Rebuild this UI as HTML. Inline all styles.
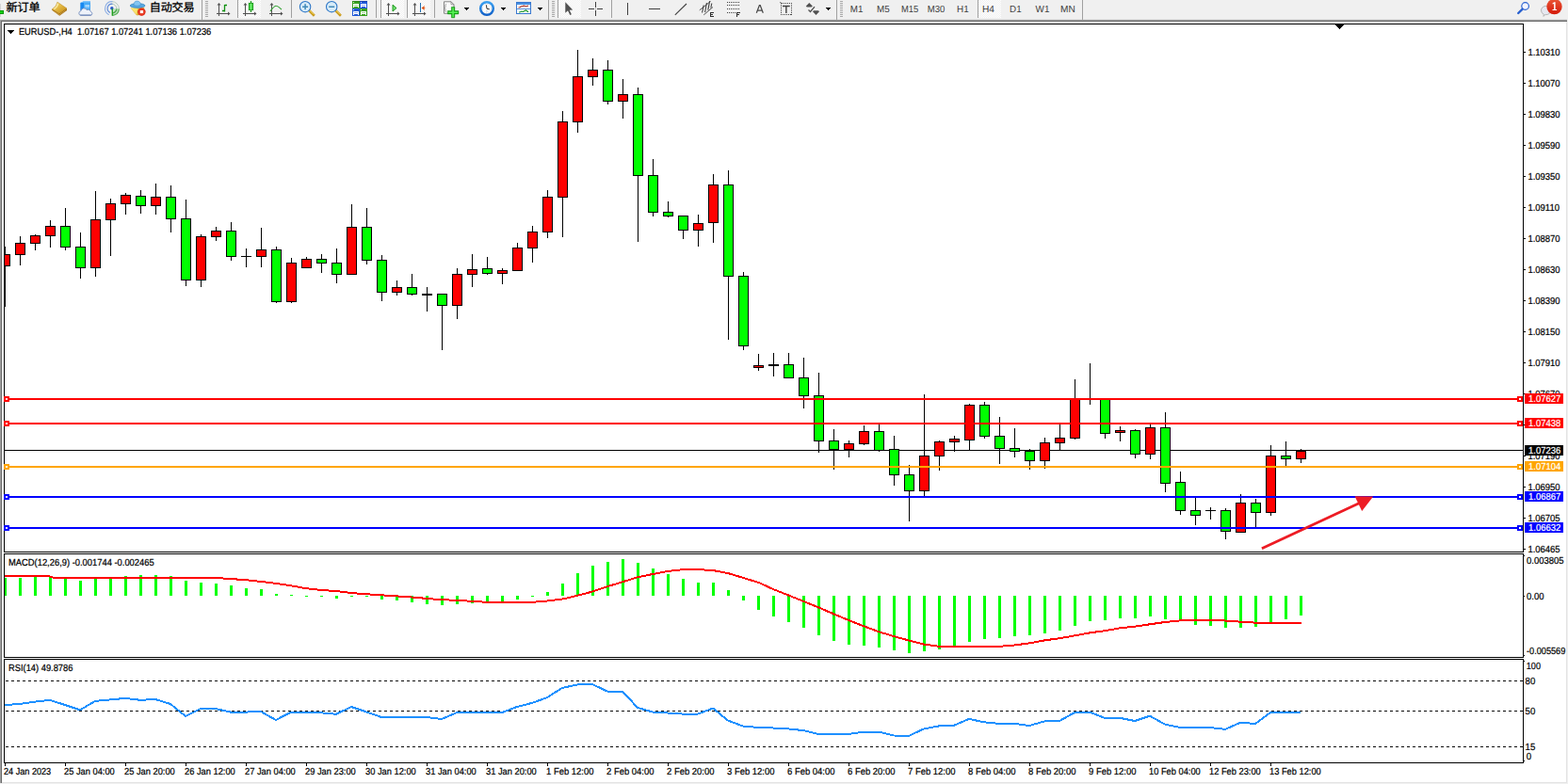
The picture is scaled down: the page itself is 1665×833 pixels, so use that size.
<!DOCTYPE html><html><head><meta charset="utf-8"><title>EURUSD H4</title><style>html,body{margin:0;padding:0;background:#fff;overflow:hidden}</style></head><body><svg width="1665" height="833" viewBox="0 0 1665 833" font-family="'Liberation Sans', sans-serif" text-rendering="geometricPrecision" style="display:block">
<rect x="0" y="0" width="1665" height="833" fill="#fff"/>
<g shape-rendering="crispEdges">
<rect x="0" y="0" width="1665" height="21" fill="#f0f0f0"/>
<rect x="0" y="20" width="1664" height="1" fill="#e3e3e3"/>
<rect x="0" y="21" width="1664" height="1" fill="#a0a0a0"/>
<rect x="1" y="22" width="1663" height="1" fill="#696969"/>
<rect x="0" y="21" width="1" height="811" fill="#a0a0a0"/>
<rect x="1" y="22" width="1" height="810" fill="#696969"/>
<rect x="1663" y="23" width="1" height="809" fill="#e3e3e3"/>
<rect x="2" y="831" width="1662" height="1" fill="#e3e3e3"/>
<rect x="1664" y="21" width="1" height="812" fill="#f0f0f0"/>
<rect x="0" y="832" width="1665" height="1" fill="#f0f0f0"/>
<rect x="4" y="25" width="1614" height="1" fill="#000"/>
<rect x="4" y="586" width="1614" height="1" fill="#000"/>
<rect x="4" y="25" width="1" height="562" fill="#000"/>
<rect x="1617" y="25" width="1" height="562" fill="#000"/>
<rect x="4" y="588" width="1614" height="1" fill="#000"/>
<rect x="4" y="698" width="1614" height="1" fill="#000"/>
<rect x="4" y="588" width="1" height="111" fill="#000"/>
<rect x="1617" y="588" width="1" height="111" fill="#000"/>
<rect x="4" y="700" width="1614" height="1" fill="#000"/>
<rect x="4" y="810" width="1614" height="1" fill="#000"/>
<rect x="4" y="700" width="1" height="111" fill="#000"/>
<rect x="1617" y="700" width="1" height="111" fill="#000"/>
</g>
<g shape-rendering="crispEdges">
<rect x="1618" y="55" width="2" height="1" fill="#000"/>
<rect x="1618" y="88" width="2" height="1" fill="#000"/>
<rect x="1618" y="121" width="2" height="1" fill="#000"/>
<rect x="1618" y="154" width="2" height="1" fill="#000"/>
<rect x="1618" y="187" width="2" height="1" fill="#000"/>
<rect x="1618" y="220" width="2" height="1" fill="#000"/>
<rect x="1618" y="253" width="2" height="1" fill="#000"/>
<rect x="1618" y="286" width="2" height="1" fill="#000"/>
<rect x="1618" y="319" width="2" height="1" fill="#000"/>
<rect x="1618" y="352" width="2" height="1" fill="#000"/>
<rect x="1618" y="385" width="2" height="1" fill="#000"/>
<rect x="1618" y="418" width="2" height="1" fill="#000"/>
<rect x="1618" y="451" width="2" height="1" fill="#000"/>
<rect x="1618" y="484" width="2" height="1" fill="#000"/>
<rect x="1618" y="517" width="2" height="1" fill="#000"/>
<rect x="1618" y="550" width="2" height="1" fill="#000"/>
<rect x="1618" y="583" width="2" height="1" fill="#000"/>
</g>
<text transform="translate(1622.4 59) scale(0.929 1)" font-size="10.2" fill="#000" stroke="#000" stroke-width="0.22" text-anchor="start">1.10310</text>
<text transform="translate(1622.4 92) scale(0.929 1)" font-size="10.2" fill="#000" stroke="#000" stroke-width="0.22" text-anchor="start">1.10070</text>
<text transform="translate(1622.4 125) scale(0.929 1)" font-size="10.2" fill="#000" stroke="#000" stroke-width="0.22" text-anchor="start">1.09830</text>
<text transform="translate(1622.4 158) scale(0.929 1)" font-size="10.2" fill="#000" stroke="#000" stroke-width="0.22" text-anchor="start">1.09590</text>
<text transform="translate(1622.4 191) scale(0.929 1)" font-size="10.2" fill="#000" stroke="#000" stroke-width="0.22" text-anchor="start">1.09350</text>
<text transform="translate(1622.4 224) scale(0.929 1)" font-size="10.2" fill="#000" stroke="#000" stroke-width="0.22" text-anchor="start">1.09110</text>
<text transform="translate(1622.4 257) scale(0.929 1)" font-size="10.2" fill="#000" stroke="#000" stroke-width="0.22" text-anchor="start">1.08870</text>
<text transform="translate(1622.4 290) scale(0.929 1)" font-size="10.2" fill="#000" stroke="#000" stroke-width="0.22" text-anchor="start">1.08630</text>
<text transform="translate(1622.4 323) scale(0.929 1)" font-size="10.2" fill="#000" stroke="#000" stroke-width="0.22" text-anchor="start">1.08390</text>
<text transform="translate(1622.4 356) scale(0.929 1)" font-size="10.2" fill="#000" stroke="#000" stroke-width="0.22" text-anchor="start">1.08150</text>
<text transform="translate(1622.4 389) scale(0.929 1)" font-size="10.2" fill="#000" stroke="#000" stroke-width="0.22" text-anchor="start">1.07910</text>
<text transform="translate(1622.4 422) scale(0.929 1)" font-size="10.2" fill="#000" stroke="#000" stroke-width="0.22" text-anchor="start">1.07670</text>
<text transform="translate(1622.4 488) scale(0.929 1)" font-size="10.2" fill="#000" stroke="#000" stroke-width="0.22" text-anchor="start">1.07190</text>
<text transform="translate(1622.4 521) scale(0.929 1)" font-size="10.2" fill="#000" stroke="#000" stroke-width="0.22" text-anchor="start">1.06950</text>
<text transform="translate(1622.4 554) scale(0.929 1)" font-size="10.2" fill="#000" stroke="#000" stroke-width="0.22" text-anchor="start">1.06705</text>
<text transform="translate(1622.4 587) scale(0.929 1)" font-size="10.2" fill="#000" stroke="#000" stroke-width="0.22" text-anchor="start">1.06465</text>
<g shape-rendering="crispEdges">
<rect x="1618" y="590" width="1" height="1" fill="#000"/>
<rect x="1618" y="633" width="1" height="1" fill="#000"/>
<rect x="1618" y="696" width="1" height="1" fill="#000"/>
<rect x="1618" y="702" width="1" height="1" fill="#000"/>
<rect x="1618" y="808" width="1" height="1" fill="#000"/>
</g>
<text transform="translate(1621 599) scale(0.929 1)" font-size="10.2" fill="#000" stroke="#000" stroke-width="0.22" text-anchor="start">0.003805</text>
<text transform="translate(1621 637) scale(0.93 1)" font-size="10.2" fill="#000" stroke="#000" stroke-width="0.22" text-anchor="start">0.00</text>
<text transform="translate(1621 695) scale(0.9 1)" font-size="10.2" fill="#000" stroke="#000" stroke-width="0.22" text-anchor="start">-0.005569</text>
<text transform="translate(1620.8 711) scale(0.89 1)" font-size="10.2" fill="#000" stroke="#000" stroke-width="0.22" text-anchor="start">100</text>
<text transform="translate(1619.6 727) scale(0.94 1)" font-size="10.2" fill="#000" stroke="#000" stroke-width="0.22" text-anchor="start">80</text>
<text transform="translate(1619.6 759) scale(0.94 1)" font-size="10.2" fill="#000" stroke="#000" stroke-width="0.22" text-anchor="start">50</text>
<text transform="translate(1619.6 797) scale(0.94 1)" font-size="10.2" fill="#000" stroke="#000" stroke-width="0.22" text-anchor="start">15</text>
<text transform="translate(1620.8 807) scale(0.95 1)" font-size="10.2" fill="#000" stroke="#000" stroke-width="0.22" text-anchor="start">0</text>
<g shape-rendering="crispEdges">
<rect x="8" y="32" width="7" height="1" fill="#000"/>
<rect x="9" y="33" width="5" height="1" fill="#000"/>
<rect x="10" y="34" width="3" height="1" fill="#000"/>
<rect x="11" y="35" width="1" height="1" fill="#000"/>
<rect x="1418" y="26" width="9" height="1" fill="#000"/>
<rect x="1419" y="27" width="7" height="1" fill="#000"/>
<rect x="1420" y="28" width="5" height="1" fill="#000"/>
<rect x="1421" y="29" width="3" height="1" fill="#000"/>
<rect x="1422" y="30" width="1" height="1" fill="#000"/>
</g>
<text transform="translate(19.9 37) scale(0.9135 1)" font-size="10.2" fill="#000" stroke="#000" stroke-width="0.22" text-anchor="start">EURUSD-,H4&#160;&#160;1.07167 1.07241 1.07136 1.07236</text>
<text transform="translate(9.0 600.5) scale(0.9196 1)" font-size="10.2" fill="#000" stroke="#000" stroke-width="0.22" text-anchor="start">MACD(12,26,9) -0.001744 -0.002465</text>
<text transform="translate(9.0 712.5) scale(0.915 1)" font-size="10.2" fill="#000" stroke="#000" stroke-width="0.22" text-anchor="start">RSI(14) 49.8786</text>
<g shape-rendering="crispEdges">
<rect x="5" y="478" width="1612" height="1" fill="#000"/>
<rect x="5" y="262" width="1" height="64" fill="#000"/>
<rect x="5" y="270" width="6" height="13" fill="#000"/>
<rect x="5" y="271" width="5" height="11" fill="#ff0000"/>
<rect x="21" y="251" width="1" height="31" fill="#000"/>
<rect x="16" y="258" width="11" height="13" fill="#000"/>
<rect x="17" y="259" width="9" height="11" fill="#ff0000"/>
<rect x="37" y="249" width="1" height="17" fill="#000"/>
<rect x="32" y="250" width="11" height="9" fill="#000"/>
<rect x="33" y="251" width="9" height="7" fill="#ff0000"/>
<rect x="53" y="234" width="1" height="29" fill="#000"/>
<rect x="48" y="240" width="11" height="11" fill="#000"/>
<rect x="49" y="241" width="9" height="9" fill="#ff0000"/>
<rect x="69" y="221" width="1" height="45" fill="#000"/>
<rect x="64" y="240" width="11" height="23" fill="#000"/>
<rect x="65" y="241" width="9" height="21" fill="#00ff00"/>
<rect x="85" y="247" width="1" height="49" fill="#000"/>
<rect x="80" y="262" width="11" height="23" fill="#000"/>
<rect x="81" y="263" width="9" height="21" fill="#00ff00"/>
<rect x="101" y="203" width="1" height="91" fill="#000"/>
<rect x="96" y="233" width="11" height="52" fill="#000"/>
<rect x="97" y="234" width="9" height="50" fill="#ff0000"/>
<rect x="117" y="211" width="1" height="61" fill="#000"/>
<rect x="112" y="216" width="11" height="18" fill="#000"/>
<rect x="113" y="217" width="9" height="16" fill="#ff0000"/>
<rect x="133" y="205" width="1" height="23" fill="#000"/>
<rect x="128" y="207" width="11" height="10" fill="#000"/>
<rect x="129" y="208" width="9" height="8" fill="#ff0000"/>
<rect x="149" y="202" width="1" height="25" fill="#000"/>
<rect x="144" y="208" width="11" height="11" fill="#000"/>
<rect x="145" y="209" width="9" height="9" fill="#00ff00"/>
<rect x="165" y="195" width="1" height="33" fill="#000"/>
<rect x="160" y="209" width="11" height="10" fill="#000"/>
<rect x="161" y="210" width="9" height="8" fill="#ff0000"/>
<rect x="181" y="197" width="1" height="50" fill="#000"/>
<rect x="176" y="209" width="11" height="24" fill="#000"/>
<rect x="177" y="210" width="9" height="22" fill="#00ff00"/>
<rect x="197" y="212" width="1" height="92" fill="#000"/>
<rect x="192" y="232" width="11" height="66" fill="#000"/>
<rect x="193" y="233" width="9" height="64" fill="#00ff00"/>
<rect x="213" y="249" width="1" height="56" fill="#000"/>
<rect x="208" y="251" width="11" height="47" fill="#000"/>
<rect x="209" y="252" width="9" height="45" fill="#ff0000"/>
<rect x="229" y="241" width="1" height="15" fill="#000"/>
<rect x="224" y="245" width="11" height="7" fill="#000"/>
<rect x="225" y="246" width="9" height="5" fill="#ff0000"/>
<rect x="245" y="236" width="1" height="41" fill="#000"/>
<rect x="240" y="245" width="11" height="28" fill="#000"/>
<rect x="241" y="246" width="9" height="26" fill="#00ff00"/>
<rect x="261" y="264" width="1" height="20" fill="#000"/>
<rect x="256" y="272" width="11" height="1" fill="#000"/>
<rect x="277" y="242" width="1" height="42" fill="#000"/>
<rect x="272" y="265" width="11" height="8" fill="#000"/>
<rect x="273" y="266" width="9" height="6" fill="#ff0000"/>
<rect x="293" y="262" width="1" height="60" fill="#000"/>
<rect x="288" y="265" width="11" height="56" fill="#000"/>
<rect x="289" y="266" width="9" height="54" fill="#00ff00"/>
<rect x="309" y="274" width="1" height="48" fill="#000"/>
<rect x="304" y="279" width="11" height="42" fill="#000"/>
<rect x="305" y="280" width="9" height="40" fill="#ff0000"/>
<rect x="325" y="273" width="1" height="12" fill="#000"/>
<rect x="320" y="275" width="11" height="10" fill="#000"/>
<rect x="321" y="276" width="9" height="8" fill="#ff0000"/>
<rect x="341" y="270" width="1" height="20" fill="#000"/>
<rect x="336" y="275" width="11" height="5" fill="#000"/>
<rect x="337" y="276" width="9" height="3" fill="#00ff00"/>
<rect x="357" y="264" width="1" height="37" fill="#000"/>
<rect x="352" y="279" width="11" height="13" fill="#000"/>
<rect x="353" y="280" width="9" height="11" fill="#00ff00"/>
<rect x="373" y="217" width="1" height="75" fill="#000"/>
<rect x="368" y="241" width="11" height="51" fill="#000"/>
<rect x="369" y="242" width="9" height="49" fill="#ff0000"/>
<rect x="389" y="221" width="1" height="60" fill="#000"/>
<rect x="384" y="241" width="11" height="36" fill="#000"/>
<rect x="385" y="242" width="9" height="34" fill="#00ff00"/>
<rect x="405" y="271" width="1" height="49" fill="#000"/>
<rect x="400" y="276" width="11" height="35" fill="#000"/>
<rect x="401" y="277" width="9" height="33" fill="#00ff00"/>
<rect x="421" y="298" width="1" height="16" fill="#000"/>
<rect x="416" y="305" width="11" height="6" fill="#000"/>
<rect x="417" y="306" width="9" height="4" fill="#ff0000"/>
<rect x="437" y="291" width="1" height="23" fill="#000"/>
<rect x="432" y="305" width="11" height="8" fill="#000"/>
<rect x="433" y="306" width="9" height="6" fill="#00ff00"/>
<rect x="453" y="305" width="1" height="26" fill="#000"/>
<rect x="448" y="312" width="11" height="2" fill="#000"/>
<rect x="469" y="312" width="1" height="60" fill="#000"/>
<rect x="464" y="312" width="11" height="13" fill="#000"/>
<rect x="465" y="313" width="9" height="11" fill="#00ff00"/>
<rect x="485" y="285" width="1" height="54" fill="#000"/>
<rect x="480" y="291" width="11" height="34" fill="#000"/>
<rect x="481" y="292" width="9" height="32" fill="#ff0000"/>
<rect x="501" y="270" width="1" height="35" fill="#000"/>
<rect x="496" y="286" width="11" height="6" fill="#000"/>
<rect x="497" y="287" width="9" height="4" fill="#ff0000"/>
<rect x="517" y="273" width="1" height="19" fill="#000"/>
<rect x="512" y="285" width="11" height="6" fill="#000"/>
<rect x="513" y="286" width="9" height="4" fill="#00ff00"/>
<rect x="533" y="285" width="1" height="17" fill="#000"/>
<rect x="528" y="287" width="11" height="4" fill="#000"/>
<rect x="529" y="288" width="9" height="2" fill="#ff0000"/>
<rect x="549" y="258" width="1" height="30" fill="#000"/>
<rect x="544" y="263" width="11" height="25" fill="#000"/>
<rect x="545" y="264" width="9" height="23" fill="#ff0000"/>
<rect x="565" y="240" width="1" height="39" fill="#000"/>
<rect x="560" y="246" width="11" height="18" fill="#000"/>
<rect x="561" y="247" width="9" height="16" fill="#ff0000"/>
<rect x="581" y="202" width="1" height="51" fill="#000"/>
<rect x="576" y="209" width="11" height="38" fill="#000"/>
<rect x="577" y="210" width="9" height="36" fill="#ff0000"/>
<rect x="597" y="118" width="1" height="134" fill="#000"/>
<rect x="592" y="129" width="11" height="81" fill="#000"/>
<rect x="593" y="130" width="9" height="79" fill="#ff0000"/>
<rect x="613" y="53" width="1" height="88" fill="#000"/>
<rect x="608" y="81" width="11" height="49" fill="#000"/>
<rect x="609" y="82" width="9" height="47" fill="#ff0000"/>
<rect x="629" y="62" width="1" height="29" fill="#000"/>
<rect x="624" y="74" width="11" height="8" fill="#000"/>
<rect x="625" y="75" width="9" height="6" fill="#ff0000"/>
<rect x="645" y="64" width="1" height="47" fill="#000"/>
<rect x="640" y="74" width="11" height="34" fill="#000"/>
<rect x="641" y="75" width="9" height="32" fill="#00ff00"/>
<rect x="661" y="84" width="1" height="42" fill="#000"/>
<rect x="656" y="100" width="11" height="8" fill="#000"/>
<rect x="657" y="101" width="9" height="6" fill="#ff0000"/>
<rect x="677" y="93" width="1" height="164" fill="#000"/>
<rect x="672" y="100" width="11" height="87" fill="#000"/>
<rect x="673" y="101" width="9" height="85" fill="#00ff00"/>
<rect x="693" y="169" width="1" height="61" fill="#000"/>
<rect x="688" y="186" width="11" height="40" fill="#000"/>
<rect x="689" y="187" width="9" height="38" fill="#00ff00"/>
<rect x="709" y="214" width="1" height="17" fill="#000"/>
<rect x="704" y="225" width="11" height="5" fill="#000"/>
<rect x="705" y="226" width="9" height="3" fill="#00ff00"/>
<rect x="725" y="229" width="1" height="25" fill="#000"/>
<rect x="720" y="229" width="11" height="16" fill="#000"/>
<rect x="721" y="230" width="9" height="14" fill="#00ff00"/>
<rect x="741" y="228" width="1" height="34" fill="#000"/>
<rect x="736" y="237" width="11" height="8" fill="#000"/>
<rect x="737" y="238" width="9" height="6" fill="#ff0000"/>
<rect x="757" y="185" width="1" height="73" fill="#000"/>
<rect x="752" y="196" width="11" height="41" fill="#000"/>
<rect x="753" y="197" width="9" height="39" fill="#ff0000"/>
<rect x="773" y="181" width="1" height="180" fill="#000"/>
<rect x="768" y="196" width="11" height="98" fill="#000"/>
<rect x="769" y="197" width="9" height="96" fill="#00ff00"/>
<rect x="789" y="289" width="1" height="83" fill="#000"/>
<rect x="784" y="293" width="11" height="75" fill="#000"/>
<rect x="785" y="294" width="9" height="73" fill="#00ff00"/>
<rect x="805" y="376" width="1" height="18" fill="#000"/>
<rect x="800" y="388" width="11" height="3" fill="#000"/>
<rect x="801" y="389" width="9" height="1" fill="#ff0000"/>
<rect x="821" y="375" width="1" height="25" fill="#000"/>
<rect x="816" y="387" width="11" height="2" fill="#000"/>
<rect x="837" y="375" width="1" height="27" fill="#000"/>
<rect x="832" y="387" width="11" height="15" fill="#000"/>
<rect x="833" y="388" width="9" height="13" fill="#00ff00"/>
<rect x="853" y="380" width="1" height="54" fill="#000"/>
<rect x="848" y="401" width="11" height="20" fill="#000"/>
<rect x="849" y="402" width="9" height="18" fill="#00ff00"/>
<rect x="869" y="396" width="1" height="85" fill="#000"/>
<rect x="864" y="420" width="11" height="49" fill="#000"/>
<rect x="865" y="421" width="9" height="47" fill="#00ff00"/>
<rect x="885" y="456" width="1" height="43" fill="#000"/>
<rect x="880" y="468" width="11" height="10" fill="#000"/>
<rect x="881" y="469" width="9" height="8" fill="#00ff00"/>
<rect x="901" y="468" width="1" height="18" fill="#000"/>
<rect x="896" y="471" width="11" height="7" fill="#000"/>
<rect x="897" y="472" width="9" height="5" fill="#ff0000"/>
<rect x="917" y="452" width="1" height="21" fill="#000"/>
<rect x="912" y="458" width="11" height="14" fill="#000"/>
<rect x="913" y="459" width="9" height="12" fill="#ff0000"/>
<rect x="933" y="451" width="1" height="29" fill="#000"/>
<rect x="928" y="458" width="11" height="21" fill="#000"/>
<rect x="929" y="459" width="9" height="19" fill="#00ff00"/>
<rect x="949" y="463" width="1" height="53" fill="#000"/>
<rect x="944" y="477" width="11" height="28" fill="#000"/>
<rect x="945" y="478" width="9" height="26" fill="#00ff00"/>
<rect x="965" y="494" width="1" height="60" fill="#000"/>
<rect x="960" y="504" width="11" height="18" fill="#000"/>
<rect x="961" y="505" width="9" height="16" fill="#00ff00"/>
<rect x="981" y="419" width="1" height="108" fill="#000"/>
<rect x="976" y="484" width="11" height="38" fill="#000"/>
<rect x="977" y="485" width="9" height="36" fill="#ff0000"/>
<rect x="997" y="468" width="1" height="32" fill="#000"/>
<rect x="992" y="469" width="11" height="16" fill="#000"/>
<rect x="993" y="470" width="9" height="14" fill="#ff0000"/>
<rect x="1013" y="463" width="1" height="17" fill="#000"/>
<rect x="1008" y="466" width="11" height="4" fill="#000"/>
<rect x="1009" y="467" width="9" height="2" fill="#ff0000"/>
<rect x="1029" y="429" width="1" height="50" fill="#000"/>
<rect x="1024" y="430" width="11" height="38" fill="#000"/>
<rect x="1025" y="431" width="9" height="36" fill="#ff0000"/>
<rect x="1045" y="427" width="1" height="39" fill="#000"/>
<rect x="1040" y="430" width="11" height="34" fill="#000"/>
<rect x="1041" y="431" width="9" height="32" fill="#00ff00"/>
<rect x="1061" y="443" width="1" height="50" fill="#000"/>
<rect x="1056" y="463" width="11" height="14" fill="#000"/>
<rect x="1057" y="464" width="9" height="12" fill="#00ff00"/>
<rect x="1077" y="455" width="1" height="31" fill="#000"/>
<rect x="1072" y="476" width="11" height="4" fill="#000"/>
<rect x="1073" y="477" width="9" height="2" fill="#00ff00"/>
<rect x="1093" y="477" width="1" height="22" fill="#000"/>
<rect x="1088" y="479" width="11" height="11" fill="#000"/>
<rect x="1089" y="480" width="9" height="9" fill="#00ff00"/>
<rect x="1109" y="465" width="1" height="33" fill="#000"/>
<rect x="1104" y="470" width="11" height="20" fill="#000"/>
<rect x="1105" y="471" width="9" height="18" fill="#ff0000"/>
<rect x="1125" y="451" width="1" height="27" fill="#000"/>
<rect x="1120" y="465" width="11" height="6" fill="#000"/>
<rect x="1121" y="466" width="9" height="4" fill="#ff0000"/>
<rect x="1141" y="403" width="1" height="64" fill="#000"/>
<rect x="1136" y="423" width="11" height="43" fill="#000"/>
<rect x="1137" y="424" width="9" height="41" fill="#ff0000"/>
<rect x="1157" y="386" width="1" height="44" fill="#000"/>
<rect x="1152" y="424" width="11" height="1" fill="#000"/>
<rect x="1173" y="424" width="1" height="42" fill="#000"/>
<rect x="1168" y="424" width="11" height="37" fill="#000"/>
<rect x="1169" y="425" width="9" height="35" fill="#00ff00"/>
<rect x="1189" y="453" width="1" height="16" fill="#000"/>
<rect x="1184" y="457" width="11" height="3" fill="#000"/>
<rect x="1185" y="458" width="9" height="1" fill="#ff0000"/>
<rect x="1205" y="456" width="1" height="31" fill="#000"/>
<rect x="1200" y="457" width="11" height="26" fill="#000"/>
<rect x="1201" y="458" width="9" height="24" fill="#00ff00"/>
<rect x="1221" y="451" width="1" height="37" fill="#000"/>
<rect x="1216" y="454" width="11" height="29" fill="#000"/>
<rect x="1217" y="455" width="9" height="27" fill="#ff0000"/>
<rect x="1237" y="438" width="1" height="85" fill="#000"/>
<rect x="1232" y="454" width="11" height="60" fill="#000"/>
<rect x="1233" y="455" width="9" height="58" fill="#00ff00"/>
<rect x="1253" y="501" width="1" height="46" fill="#000"/>
<rect x="1248" y="512" width="11" height="31" fill="#000"/>
<rect x="1249" y="513" width="9" height="29" fill="#00ff00"/>
<rect x="1269" y="529" width="1" height="29" fill="#000"/>
<rect x="1264" y="542" width="11" height="6" fill="#000"/>
<rect x="1265" y="543" width="9" height="4" fill="#00ff00"/>
<rect x="1285" y="539" width="1" height="13" fill="#000"/>
<rect x="1280" y="542" width="11" height="1" fill="#000"/>
<rect x="1301" y="540" width="1" height="33" fill="#000"/>
<rect x="1296" y="542" width="11" height="23" fill="#000"/>
<rect x="1297" y="543" width="9" height="21" fill="#00ff00"/>
<rect x="1317" y="525" width="1" height="41" fill="#000"/>
<rect x="1312" y="534" width="11" height="32" fill="#000"/>
<rect x="1313" y="535" width="9" height="30" fill="#ff0000"/>
<rect x="1333" y="530" width="1" height="30" fill="#000"/>
<rect x="1328" y="534" width="11" height="11" fill="#000"/>
<rect x="1329" y="535" width="9" height="9" fill="#00ff00"/>
<rect x="1349" y="473" width="1" height="75" fill="#000"/>
<rect x="1344" y="484" width="11" height="61" fill="#000"/>
<rect x="1345" y="485" width="9" height="59" fill="#ff0000"/>
<rect x="1365" y="469" width="1" height="26" fill="#000"/>
<rect x="1360" y="484" width="11" height="4" fill="#000"/>
<rect x="1361" y="485" width="9" height="2" fill="#00ff00"/>
<rect x="1381" y="477" width="1" height="15" fill="#000"/>
<rect x="1376" y="479" width="11" height="9" fill="#000"/>
<rect x="1377" y="480" width="9" height="7" fill="#ff0000"/>
</g>
<g shape-rendering="crispEdges">
<rect x="5" y="423" width="1612" height="2" fill="#ff0000"/>
<rect x="4" y="421" width="6" height="6" fill="#ff0000"/>
<rect x="6" y="423" width="2" height="2" fill="#fff"/>
<rect x="1611" y="421" width="6" height="6" fill="#ff0000"/>
<rect x="1613" y="423" width="2" height="2" fill="#fff"/>
<rect x="5" y="449" width="1612" height="2" fill="#ff0000"/>
<rect x="4" y="447" width="6" height="6" fill="#ff0000"/>
<rect x="6" y="449" width="2" height="2" fill="#fff"/>
<rect x="1611" y="447" width="6" height="6" fill="#ff0000"/>
<rect x="1613" y="449" width="2" height="2" fill="#fff"/>
<rect x="5" y="495" width="1612" height="2" fill="#ffa500"/>
<rect x="4" y="493" width="6" height="6" fill="#ffa500"/>
<rect x="6" y="495" width="2" height="2" fill="#fff"/>
<rect x="1611" y="493" width="6" height="6" fill="#ffa500"/>
<rect x="1613" y="495" width="2" height="2" fill="#fff"/>
<rect x="5" y="527" width="1612" height="2" fill="#0000ff"/>
<rect x="4" y="525" width="6" height="6" fill="#0000ff"/>
<rect x="6" y="527" width="2" height="2" fill="#fff"/>
<rect x="1611" y="525" width="6" height="6" fill="#0000ff"/>
<rect x="1613" y="527" width="2" height="2" fill="#fff"/>
<rect x="5" y="560" width="1612" height="2" fill="#0000ff"/>
<rect x="4" y="558" width="6" height="6" fill="#0000ff"/>
<rect x="6" y="560" width="2" height="2" fill="#fff"/>
<rect x="1611" y="558" width="6" height="6" fill="#0000ff"/>
<rect x="1613" y="560" width="2" height="2" fill="#fff"/>
<rect x="1619" y="418" width="41" height="11" fill="#ff0000"/>
<rect x="1619" y="444" width="41" height="11" fill="#ff0000"/>
<rect x="1619" y="473" width="41" height="11" fill="#000"/>
<rect x="1619" y="490" width="41" height="11" fill="#ffa500"/>
<rect x="1619" y="522" width="41" height="11" fill="#0000ff"/>
<rect x="1619" y="555" width="41" height="11" fill="#0000ff"/>
</g>
<text transform="translate(1623 427) scale(0.929 1)" font-size="10.2" fill="#fff" stroke="#fff" stroke-width="0.22" text-anchor="start">1.07627</text>
<text transform="translate(1623 453) scale(0.929 1)" font-size="10.2" fill="#fff" stroke="#fff" stroke-width="0.22" text-anchor="start">1.07438</text>
<text transform="translate(1623 482) scale(0.929 1)" font-size="10.2" fill="#fff" stroke="#fff" stroke-width="0.22" text-anchor="start">1.07236</text>
<text transform="translate(1623 499) scale(0.929 1)" font-size="10.2" fill="#fff" stroke="#fff" stroke-width="0.22" text-anchor="start">1.07104</text>
<text transform="translate(1623 531) scale(0.929 1)" font-size="10.2" fill="#fff" stroke="#fff" stroke-width="0.22" text-anchor="start">1.06867</text>
<text transform="translate(1623 564) scale(0.929 1)" font-size="10.2" fill="#fff" stroke="#fff" stroke-width="0.22" text-anchor="start">1.06632</text>
<g fill="#ed1c24" stroke="none"><path d="M1339.3 581.6 L1340.5 584 L1443.6 535.9 L1442.4 533.4z"/><path d="M1438.6 527.2 L1458.2 527.5 L1446.2 543z"/></g>
<g shape-rendering="crispEdges" fill="#00ff00">
<rect x="5" y="614" width="2" height="19" fill="#00ff00"/>
<rect x="20" y="614" width="3" height="19" fill="#00ff00"/>
<rect x="36" y="612" width="3" height="21" fill="#00ff00"/>
<rect x="52" y="612" width="3" height="21" fill="#00ff00"/>
<rect x="68" y="614" width="3" height="19" fill="#00ff00"/>
<rect x="84" y="617" width="3" height="16" fill="#00ff00"/>
<rect x="100" y="615" width="3" height="18" fill="#00ff00"/>
<rect x="116" y="615" width="3" height="18" fill="#00ff00"/>
<rect x="132" y="612" width="3" height="21" fill="#00ff00"/>
<rect x="148" y="611" width="3" height="22" fill="#00ff00"/>
<rect x="164" y="611" width="3" height="22" fill="#00ff00"/>
<rect x="180" y="612" width="3" height="21" fill="#00ff00"/>
<rect x="196" y="617" width="3" height="16" fill="#00ff00"/>
<rect x="212" y="619" width="3" height="14" fill="#00ff00"/>
<rect x="228" y="620" width="3" height="13" fill="#00ff00"/>
<rect x="244" y="622" width="3" height="11" fill="#00ff00"/>
<rect x="260" y="625" width="3" height="8" fill="#00ff00"/>
<rect x="276" y="626" width="3" height="7" fill="#00ff00"/>
<rect x="292" y="631" width="3" height="2" fill="#00ff00"/>
<rect x="308" y="632" width="3" height="1" fill="#00ff00"/>
<rect x="324" y="633" width="3" height="1" fill="#00ff00"/>
<rect x="340" y="633" width="3" height="1" fill="#00ff00"/>
<rect x="356" y="633" width="3" height="3" fill="#00ff00"/>
<rect x="372" y="633" width="3" height="1" fill="#00ff00"/>
<rect x="388" y="633" width="3" height="1" fill="#00ff00"/>
<rect x="404" y="633" width="3" height="4" fill="#00ff00"/>
<rect x="420" y="633" width="3" height="5" fill="#00ff00"/>
<rect x="436" y="633" width="3" height="7" fill="#00ff00"/>
<rect x="452" y="633" width="3" height="9" fill="#00ff00"/>
<rect x="468" y="633" width="3" height="10" fill="#00ff00"/>
<rect x="484" y="633" width="3" height="9" fill="#00ff00"/>
<rect x="500" y="633" width="3" height="8" fill="#00ff00"/>
<rect x="516" y="633" width="3" height="7" fill="#00ff00"/>
<rect x="532" y="633" width="3" height="6" fill="#00ff00"/>
<rect x="548" y="633" width="3" height="4" fill="#00ff00"/>
<rect x="564" y="633" width="3" height="1" fill="#00ff00"/>
<rect x="580" y="629" width="3" height="4" fill="#00ff00"/>
<rect x="596" y="620" width="3" height="13" fill="#00ff00"/>
<rect x="612" y="609" width="3" height="24" fill="#00ff00"/>
<rect x="628" y="601" width="3" height="32" fill="#00ff00"/>
<rect x="644" y="597" width="3" height="36" fill="#00ff00"/>
<rect x="660" y="594" width="3" height="39" fill="#00ff00"/>
<rect x="676" y="598" width="3" height="35" fill="#00ff00"/>
<rect x="692" y="604" width="3" height="29" fill="#00ff00"/>
<rect x="708" y="610" width="3" height="23" fill="#00ff00"/>
<rect x="724" y="615" width="3" height="18" fill="#00ff00"/>
<rect x="740" y="619" width="3" height="14" fill="#00ff00"/>
<rect x="756" y="619" width="3" height="14" fill="#00ff00"/>
<rect x="772" y="627" width="3" height="6" fill="#00ff00"/>
<rect x="788" y="633" width="3" height="5" fill="#00ff00"/>
<rect x="804" y="633" width="3" height="15" fill="#00ff00"/>
<rect x="820" y="633" width="3" height="22" fill="#00ff00"/>
<rect x="836" y="633" width="3" height="28" fill="#00ff00"/>
<rect x="852" y="633" width="3" height="34" fill="#00ff00"/>
<rect x="868" y="633" width="3" height="42" fill="#00ff00"/>
<rect x="884" y="633" width="3" height="48" fill="#00ff00"/>
<rect x="900" y="633" width="3" height="52" fill="#00ff00"/>
<rect x="916" y="633" width="3" height="53" fill="#00ff00"/>
<rect x="932" y="633" width="3" height="55" fill="#00ff00"/>
<rect x="948" y="633" width="3" height="58" fill="#00ff00"/>
<rect x="964" y="633" width="3" height="61" fill="#00ff00"/>
<rect x="980" y="633" width="3" height="59" fill="#00ff00"/>
<rect x="996" y="633" width="3" height="57" fill="#00ff00"/>
<rect x="1012" y="633" width="3" height="54" fill="#00ff00"/>
<rect x="1028" y="633" width="3" height="49" fill="#00ff00"/>
<rect x="1044" y="633" width="3" height="46" fill="#00ff00"/>
<rect x="1060" y="633" width="3" height="45" fill="#00ff00"/>
<rect x="1076" y="633" width="3" height="43" fill="#00ff00"/>
<rect x="1092" y="633" width="3" height="42" fill="#00ff00"/>
<rect x="1108" y="633" width="3" height="40" fill="#00ff00"/>
<rect x="1124" y="633" width="3" height="37" fill="#00ff00"/>
<rect x="1140" y="633" width="3" height="32" fill="#00ff00"/>
<rect x="1156" y="633" width="3" height="27" fill="#00ff00"/>
<rect x="1172" y="633" width="3" height="26" fill="#00ff00"/>
<rect x="1188" y="633" width="3" height="24" fill="#00ff00"/>
<rect x="1204" y="633" width="3" height="24" fill="#00ff00"/>
<rect x="1220" y="633" width="3" height="22" fill="#00ff00"/>
<rect x="1236" y="633" width="3" height="25" fill="#00ff00"/>
<rect x="1252" y="633" width="3" height="27" fill="#00ff00"/>
<rect x="1268" y="633" width="3" height="31" fill="#00ff00"/>
<rect x="1284" y="633" width="3" height="32" fill="#00ff00"/>
<rect x="1300" y="633" width="3" height="34" fill="#00ff00"/>
<rect x="1316" y="633" width="3" height="34" fill="#00ff00"/>
<rect x="1332" y="633" width="3" height="33" fill="#00ff00"/>
<rect x="1348" y="633" width="3" height="29" fill="#00ff00"/>
<rect x="1364" y="633" width="3" height="25" fill="#00ff00"/>
<rect x="1380" y="633" width="3" height="21" fill="#00ff00"/>
</g>
<polyline points="5,612.4 53,612.4 56,613.5 85,613.5 88,614 229,614 245,615 261.6,616.3 278,618 294,620 310,622.5 324,625 340,626.9 357,628 374.6,630.2 390,631.3 405,632.3 421,633.4 437,634.5 461,636.6 480,637.7 502,638.8 517,639.9 565,639.9 582,638.4 597,636.6 612.4,633 629.7,628.4 645,623.2 661,618.3 677,613.3 693,610 709,607 725.4,605.1 741.6,605.1 757.8,606.2 773,609 789,613.9 805.4,618.9 820.5,625.8 836.8,632.3 853,638.8 869,645.3 885.4,652.4 901,658.9 917,665.2 933,671.2 949,676 965,680.5 981,684.6 997,686.8 1061,686.8 1077,685.5 1093,683.4 1109,680.4 1125,678.2 1141,675.4 1157,672.4 1173,670.2 1189,667.4 1205,665.6 1221,663.3 1237,661 1253,659.4 1300.7,659.4 1303,659.9 1316.7,660.6 1333.8,661.7 1381.7,661.7" fill="none" stroke="#ff0000" stroke-width="2" stroke-linejoin="round" shape-rendering="crispEdges"/>
<g shape-rendering="crispEdges" stroke="#000" stroke-width="1" stroke-dasharray="3 3">
<line x1="6" y1="723.5" x2="1617" y2="723.5"/>
<line x1="6" y1="755.5" x2="1617" y2="755.5"/>
<line x1="6" y1="793.5" x2="1617" y2="793.5"/>
</g>
<polyline points="5,749 21,748 37,745.6 53,743.8 69,749 85,754.4 101,744.9 117,743.4 133,741.9 149,743.8 165,743 181,748 197,760.9 213,753.1 229,753.1 245,756.6 261,756.6 277,756 293,765 309,756.6 325,756.6 341,757.3 357,758.8 373,751 389,756.4 405,762 421,762 437,762 453,762 469,764 485,757.1 501,757.1 517,757.1 533,757.1 549,751 565,746.9 581,741.1 597,730.9 613,727.5 629,727 645,734.6 661,734.6 677,751.9 693,756.5 709,757.5 725,758.6 741,758.6 757,752.5 773,765.5 789,771.6 805,772.9 821,773.5 837,774.4 853,776.1 869,780 885,780 901,780 917,777.6 933,777.6 949,781.5 965,781.9 981,774.4 997,771.4 1013,770.7 1029,763.9 1045,767.3 1061,768.9 1077,768.9 1093,771 1109,766.4 1125,766 1141,757.1 1157,756.6 1173,762.8 1189,762.8 1205,766 1221,760.7 1237,769.6 1253,773 1269,773 1285,773 1301,774.9 1317,767.8 1333,768.9 1349,757.1 1365,757.1 1381,756.6" fill="none" stroke="#1e90ff" stroke-width="2" stroke-linejoin="round" shape-rendering="crispEdges"/>
<g shape-rendering="crispEdges">
<rect x="5" y="811" width="1" height="3" fill="#000"/>
<rect x="69" y="811" width="1" height="3" fill="#000"/>
<rect x="133" y="811" width="1" height="3" fill="#000"/>
<rect x="197" y="811" width="1" height="3" fill="#000"/>
<rect x="261" y="811" width="1" height="3" fill="#000"/>
<rect x="325" y="811" width="1" height="3" fill="#000"/>
<rect x="389" y="811" width="1" height="3" fill="#000"/>
<rect x="453" y="811" width="1" height="3" fill="#000"/>
<rect x="517" y="811" width="1" height="3" fill="#000"/>
<rect x="581" y="811" width="1" height="3" fill="#000"/>
<rect x="645" y="811" width="1" height="3" fill="#000"/>
<rect x="709" y="811" width="1" height="3" fill="#000"/>
<rect x="773" y="811" width="1" height="3" fill="#000"/>
<rect x="837" y="811" width="1" height="3" fill="#000"/>
<rect x="901" y="811" width="1" height="3" fill="#000"/>
<rect x="965" y="811" width="1" height="3" fill="#000"/>
<rect x="1029" y="811" width="1" height="3" fill="#000"/>
<rect x="1093" y="811" width="1" height="3" fill="#000"/>
<rect x="1157" y="811" width="1" height="3" fill="#000"/>
<rect x="1221" y="811" width="1" height="3" fill="#000"/>
<rect x="1285" y="811" width="1" height="3" fill="#000"/>
<rect x="1349" y="811" width="1" height="3" fill="#000"/>
</g>
<text transform="translate(4 823) scale(0.895 1)" font-size="10.2" fill="#000" stroke="#000" stroke-width="0.22" text-anchor="start">24 Jan 2023</text>
<text transform="translate(68 823) scale(0.9118 1)" font-size="10.2" fill="#000" stroke="#000" stroke-width="0.22" text-anchor="start">25 Jan 04:00</text>
<text transform="translate(132 823) scale(0.9118 1)" font-size="10.2" fill="#000" stroke="#000" stroke-width="0.22" text-anchor="start">25 Jan 20:00</text>
<text transform="translate(196 823) scale(0.9118 1)" font-size="10.2" fill="#000" stroke="#000" stroke-width="0.22" text-anchor="start">26 Jan 12:00</text>
<text transform="translate(260 823) scale(0.9118 1)" font-size="10.2" fill="#000" stroke="#000" stroke-width="0.22" text-anchor="start">27 Jan 04:00</text>
<text transform="translate(324 823) scale(0.9118 1)" font-size="10.2" fill="#000" stroke="#000" stroke-width="0.22" text-anchor="start">29 Jan 23:00</text>
<text transform="translate(388 823) scale(0.9118 1)" font-size="10.2" fill="#000" stroke="#000" stroke-width="0.22" text-anchor="start">30 Jan 12:00</text>
<text transform="translate(452 823) scale(0.9118 1)" font-size="10.2" fill="#000" stroke="#000" stroke-width="0.22" text-anchor="start">31 Jan 04:00</text>
<text transform="translate(516 823) scale(0.9118 1)" font-size="10.2" fill="#000" stroke="#000" stroke-width="0.22" text-anchor="start">31 Jan 20:00</text>
<text transform="translate(580 823) scale(0.928 1)" font-size="10.2" fill="#000" stroke="#000" stroke-width="0.22" text-anchor="start">1 Feb 12:00</text>
<text transform="translate(644 823) scale(0.928 1)" font-size="10.2" fill="#000" stroke="#000" stroke-width="0.22" text-anchor="start">2 Feb 04:00</text>
<text transform="translate(708 823) scale(0.928 1)" font-size="10.2" fill="#000" stroke="#000" stroke-width="0.22" text-anchor="start">2 Feb 20:00</text>
<text transform="translate(772 823) scale(0.928 1)" font-size="10.2" fill="#000" stroke="#000" stroke-width="0.22" text-anchor="start">3 Feb 12:00</text>
<text transform="translate(836 823) scale(0.928 1)" font-size="10.2" fill="#000" stroke="#000" stroke-width="0.22" text-anchor="start">6 Feb 04:00</text>
<text transform="translate(900 823) scale(0.928 1)" font-size="10.2" fill="#000" stroke="#000" stroke-width="0.22" text-anchor="start">6 Feb 20:00</text>
<text transform="translate(964 823) scale(0.928 1)" font-size="10.2" fill="#000" stroke="#000" stroke-width="0.22" text-anchor="start">7 Feb 12:00</text>
<text transform="translate(1028 823) scale(0.928 1)" font-size="10.2" fill="#000" stroke="#000" stroke-width="0.22" text-anchor="start">8 Feb 04:00</text>
<text transform="translate(1092 823) scale(0.928 1)" font-size="10.2" fill="#000" stroke="#000" stroke-width="0.22" text-anchor="start">8 Feb 20:00</text>
<text transform="translate(1156 823) scale(0.928 1)" font-size="10.2" fill="#000" stroke="#000" stroke-width="0.22" text-anchor="start">9 Feb 12:00</text>
<text transform="translate(1220 823) scale(0.9118 1)" font-size="10.2" fill="#000" stroke="#000" stroke-width="0.22" text-anchor="start">10 Feb 04:00</text>
<text transform="translate(1284 823) scale(0.9118 1)" font-size="10.2" fill="#000" stroke="#000" stroke-width="0.22" text-anchor="start">12 Feb 23:00</text>
<text transform="translate(1348 823) scale(0.9118 1)" font-size="10.2" fill="#000" stroke="#000" stroke-width="0.22" text-anchor="start">13 Feb 12:00</text>
<g id="toolbar">
<defs><linearGradient id="gGold" x1="0" y1="0" x2="1" y2="1"><stop offset="0" stop-color="#f8e070"/><stop offset="1" stop-color="#c88a10"/></linearGradient><linearGradient id="gBlue" x1="0" y1="0" x2="0" y2="1"><stop offset="0" stop-color="#3aa0f0"/><stop offset="1" stop-color="#1060c8"/></linearGradient><linearGradient id="gRed" x1="0" y1="0" x2="0" y2="1"><stop offset="0" stop-color="#ea5636"/><stop offset="1" stop-color="#d41a0a"/></linearGradient><linearGradient id="gGreen" x1="0" y1="0" x2="1" y2="0"><stop offset="0" stop-color="#20c020"/><stop offset="0.5" stop-color="#70f070"/><stop offset="1" stop-color="#20c020"/></linearGradient><pattern id="hl" width="2" height="2" patternUnits="userSpaceOnUse"><rect width="2" height="2" fill="#f0f0f0"/><rect width="1" height="1" fill="#fff"/><rect x="1" y="1" width="1" height="1" fill="#fff"/></pattern></defs>
<rect x="0" y="4" width="1" height="14" fill="#d4d4d4" shape-rendering="crispEdges"/>
<rect x="0" y="11" width="4" height="4" fill="#089808" shape-rendering="crispEdges"/><rect x="0" y="12" width="3" height="2" fill="#14d014" shape-rendering="crispEdges"/>
<text x="6.4" y="12.2" font-size="12.2" font-family="'Liberation Sans', 'Noto Sans CJK SC', sans-serif" fill="#000" stroke="#000" stroke-width="0.3" textLength="36.4" lengthAdjust="spacing">新订单</text>
<path d="M55.200 10.700 L63.200 16.800 L71.100 10.900 L70.600 8.600 L63 14.200 L55.600 9.400z" fill="#a46c0c"/><path d="M56.600 11.900 L63.200 15.600 L69.800 10.800" fill="none" stroke="#e8c878" stroke-width="0.500"/><path d="M60.900 2.200 Q60.600 6.200 55.400 9.800 L63 14.300 L70.700 8.800 Z" fill="url(#gGold)" stroke="#b88414" stroke-width="0.500"/><path d="M61.600 3.600 Q61.300 7 57.400 9.800" fill="none" stroke="#fff6c0" stroke-width="1.100" opacity="0.85"/>
<path d="M85.300 3 L89 1.300 L95.800 1.300 L95.800 11 L85.300 11z" fill="#1888f0"/><path d="M89 2.600 L95.800 2.600 L95.800 11 L89 11z" fill="#48acf8"/><path d="M85.300 3 L89 1.300 L95.800 1.300 L95.800 2.600 L89 2.600z" fill="#8cd0ff"/><rect x="90.300" y="5.500" width="4.700" height="1.100" fill="#f0f8ff"/><rect x="90.300" y="7.500" width="4.700" height="0.800" fill="#b8dcff"/><path d="M85.600 16.400 a2.400 2.400 0 0 1 0.300 -4.700 a3.300 3.300 0 0 1 6.200 -1.100 a2.900 2.900 0 0 1 4.300 1.900 a2 2 0 0 1 -0.200 3.900z" fill="#eef2fa" stroke="#6a84b8" stroke-width="0.800"/><path d="M85 15.900 h11.800" stroke="#5070a8" stroke-width="0.700" fill="none"/>
<g fill="none" stroke-linecap="round"><path d="M119 9 L119 16.400 A7.400 7.400 0 0 0 126.400 9z" fill="#90d090" stroke="none" opacity="0.45"/><path d="M119.800 16.300 A7.400 7.400 0 0 0 126.300 9.800" stroke="#58b058" stroke-width="1.300"/><path d="M120 13.800 A4.900 4.900 0 0 0 123.800 10" stroke="#4ca84c" stroke-width="1.300"/><path d="M126.400 9 A7.400 7.400 0 0 0 119 1.600" stroke="#b8ccc0" stroke-width="1"/><path d="M123.900 9 A4.900 4.900 0 0 0 119 4.100" stroke="#a8c4b4" stroke-width="1"/><path d="M119 1.600 A7.400 7.400 0 0 0 115.300 15.400" stroke="#8fb0e4" stroke-width="1.100"/><path d="M119 4.100 A4.900 4.900 0 0 0 116.500 13.200" stroke="#5a86d8" stroke-width="1.100"/></g><circle cx="118.800" cy="8.700" r="1.700" fill="#2858c8"/><rect x="118.600" y="9.300" width="1.400" height="7.400" fill="#20a020"/>
<path d="M138.500 8.400 L153.700 8 L147.300 16.300 L145 16.300z" fill="url(#gGold)"/><path d="M139 8.500 L145.300 16 L146 8.500z" fill="#fbe870" opacity="0.9"/><ellipse cx="146.100" cy="6" rx="7.900" ry="2.400" fill="#58a8e0" stroke="#2878b8" stroke-width="0.600"/><path d="M142 5.600 Q142 1.100 145.600 1.100 Q149.300 1.100 149.300 5.600 Q145.600 6.800 142 5.600z" fill="#84c6f2" stroke="#3888c8" stroke-width="0.500"/><circle cx="150.400" cy="12.600" r="4.200" fill="#d82010"/><circle cx="150.400" cy="12.600" r="3.600" fill="#e83820"/><rect x="148.800" y="11.100" width="3.300" height="3" fill="#fff"/>
<text x="158.7" y="12.2" font-size="12.1" font-family="'Liberation Sans', 'Noto Sans CJK SC', sans-serif" fill="#000" stroke="#000" stroke-width="0.3" textLength="47.9" lengthAdjust="spacing">自动交易</text>
<rect x="214" y="0" width="1" height="21" fill="#a0a0a0" shape-rendering="crispEdges"/>
<g shape-rendering="crispEdges" fill="#a8a8a8">
<rect x="218" y="1" width="3" height="1"/>
<rect x="218" y="3" width="3" height="1"/>
<rect x="218" y="5" width="3" height="1"/>
<rect x="218" y="7" width="3" height="1"/>
<rect x="218" y="9" width="3" height="1"/>
<rect x="218" y="11" width="3" height="1"/>
<rect x="218" y="13" width="3" height="1"/>
<rect x="218" y="15" width="3" height="1"/>
<rect x="218" y="17" width="3" height="1"/>
</g>
<g stroke="#505050" stroke-width="1" fill="none" shape-rendering="crispEdges"><line x1="232.5" y1="4" x2="232.5" y2="17"/><line x1="230" y1="14.5" x2="243" y2="14.5"/></g><path d="M230.5 5.5l2-2.5l2 2.5zM242 12.5l2.5 2l-2.5 2z" fill="#505050"/>
<path d="M236 11.5h2.5M238.5 5v7.5M238.5 5.5h2.5" stroke="#109010" stroke-width="1.3" fill="none"/>
<rect x="252" y="0" width="1" height="19" fill="#a0a0a0" shape-rendering="crispEdges"/>
<rect x="253" y="0" width="24" height="19" fill="url(#hl)" shape-rendering="crispEdges"/>
<g stroke="#505050" stroke-width="1" fill="none" shape-rendering="crispEdges"><line x1="260.5" y1="4" x2="260.5" y2="17"/><line x1="258" y1="14.5" x2="271" y2="14.5"/></g><path d="M258.5 5.5l2-2.5l2 2.5zM270 12.5l2.5 2l-2.5 2z" fill="#505050"/>
<rect x="266" y="1" width="1" height="12" fill="#109010"/><rect x="264.3" y="3.3" width="4.4" height="7.4" fill="url(#gGreen)" stroke="#109010" stroke-width="0.8"/>
<g stroke="#505050" stroke-width="1" fill="none" shape-rendering="crispEdges"><line x1="288.5" y1="4" x2="288.5" y2="17"/><line x1="286" y1="14.5" x2="299" y2="14.5"/></g><path d="M286.5 5.5l2-2.5l2 2.5zM298 12.5l2.5 2l-2.5 2z" fill="#505050"/>
<path d="M287 11.800 Q291.500 6 293.300 6.300 Q295.500 6.600 299 10.200" stroke="#30a030" stroke-width="1.100" fill="none"/>
<rect x="309" y="0" width="1" height="19" fill="#a0a0a0" shape-rendering="crispEdges"/>
<path d="M328.1 11 L332.90000000000003 15.800" stroke="#c89818" stroke-width="2.6" stroke-linecap="square"/><path d="M328.3 10.6 L333.1 15.400" stroke="#f8e070" stroke-width="0.9"/><circle cx="324.1" cy="7.2" r="5.7" fill="#d8ecf8" stroke="#3078c8" stroke-width="1.1"/><rect x="321.1" y="6.5" width="6" height="1.5" fill="#4088b8"/>
<rect x="323.35" y="4.2" width="1.5" height="6" fill="#4088b8"/>
<path d="M356.2 11 L361.0 15.800" stroke="#c89818" stroke-width="2.6" stroke-linecap="square"/><path d="M356.4 10.6 L361.2 15.400" stroke="#f8e070" stroke-width="0.9"/><circle cx="352.2" cy="7.2" r="5.7" fill="#d8ecf8" stroke="#3078c8" stroke-width="1.1"/><rect x="349.2" y="6.5" width="6" height="1.5" fill="#4088b8"/>
<g shape-rendering="crispEdges"><rect x="374" y="1" width="8" height="8" fill="#38a020"/><rect x="382" y="1" width="8" height="8" fill="#2058d8"/><rect x="374" y="9" width="8" height="8" fill="#2058d8"/><rect x="382" y="9" width="8" height="8" fill="#38a020"/><rect x="374" y="1" width="8" height="1" fill="#2c8818"/><rect x="382" y="1" width="8" height="1" fill="#1840b0"/><rect x="375" y="4" width="6" height="4" fill="#fff"/><rect x="383" y="4" width="6" height="4" fill="#fff"/><rect x="375" y="12" width="6" height="4" fill="#fff"/><rect x="383" y="12" width="6" height="4" fill="#fff"/><rect x="376" y="5" width="4" height="1" fill="#a8d898"/><rect x="384" y="5" width="4" height="1" fill="#a0b8f0"/><rect x="376" y="13" width="4" height="1" fill="#a0b8f0"/><rect x="384" y="13" width="4" height="1" fill="#a8d898"/><rect x="376" y="7" width="4" height="1" fill="#38a020"/><rect x="384" y="7" width="4" height="1" fill="#2058d8"/><rect x="376" y="15" width="4" height="1" fill="#2058d8"/><rect x="384" y="15" width="4" height="1" fill="#38a020"/><rect x="375" y="2" width="1" height="1" fill="#d0f0c8"/><rect x="383" y="2" width="1" height="1" fill="#c8d8ff"/><rect x="375" y="10" width="1" height="1" fill="#c8d8ff"/><rect x="383" y="10" width="1" height="1" fill="#d0f0c8"/></g>
<rect x="399" y="0" width="1" height="19" fill="#a0a0a0" shape-rendering="crispEdges"/>
<rect x="404" y="0" width="1" height="19" fill="#a0a0a0" shape-rendering="crispEdges"/>
<rect x="405" y="0" width="24" height="19" fill="url(#hl)" shape-rendering="crispEdges"/>
<g stroke="#505050" stroke-width="1" fill="none" shape-rendering="crispEdges"><line x1="412.5" y1="4" x2="412.5" y2="17"/><line x1="410" y1="14.5" x2="423" y2="14.5"/></g><path d="M410.5 5.5l2-2.5l2 2.5zM422 12.5l2.5 2l-2.5 2z" fill="#505050"/>
<path d="M417 5.2 L421 8.6 L417 12z" fill="#70e070" stroke="#109010" stroke-width="0.9"/>
<rect x="432" y="0" width="1" height="19" fill="#a0a0a0" shape-rendering="crispEdges"/>
<rect x="433" y="0" width="24" height="19" fill="url(#hl)" shape-rendering="crispEdges"/>
<g stroke="#505050" stroke-width="1" fill="none" shape-rendering="crispEdges"><line x1="440.5" y1="4" x2="440.5" y2="17"/><line x1="438" y1="14.5" x2="451" y2="14.5"/></g><path d="M438.5 5.5l2-2.5l2 2.5zM450 12.5l2.5 2l-2.5 2z" fill="#505050"/>
<rect x="446" y="3" width="1" height="10" fill="#2070b0"/><path d="M447.5 8.5 L451 6 L450.3 8 L452 8.5 L450.3 9 L451 11z" fill="#e05010"/>
<rect x="461" y="0" width="1" height="19" fill="#a0a0a0" shape-rendering="crispEdges"/>
<path d="M471.5 1.800h7.500l3 3v9.500h-10.500z" fill="#fafafa" stroke="#787878" stroke-width="0.9"/><path d="M479 1.800v3h3" fill="none" stroke="#787878" stroke-width="0.7"/><path d="M474 4.5c-1 0-1 1-1 2s0 1.500-.8 2c.8.5.8 1 .8 2s0 2 1 2" fill="none" stroke="#707070" stroke-width="0.7"/><path d="M479.400 7.400h3.400v4.100h4.100v3.400h-4.100v3.900h-3.400v-3.900h-4v-3.400h4z" fill="#10a810" stroke="#0c8c0c" stroke-width="0.5"/><path d="M480.300 8.300h1.600v4.100h4.100v1.600h-4.100v3.900h-1.600v-3.900h-4v-1.600h4z" fill="#58f058"/>
<g shape-rendering="crispEdges" fill="#000"><rect x="493" y="8" width="5" height="1"/><rect x="494" y="9" width="3" height="1"/><rect x="495" y="10" width="1" height="1"/></g>
<circle cx="517" cy="9" r="6.800" fill="#fcfcfc" stroke="url(#gBlue)" stroke-width="2.500"/><circle cx="517" cy="9" r="4.600" fill="none" stroke="#b8b8b8" stroke-width="0.700" stroke-dasharray="0.700 1.710"/><path d="M516.400 5.300 L517 9.300 L519.800 9.800" stroke="#303030" stroke-width="1" fill="none"/><path d="M516 11.800h2.200" stroke="#90b8f0" stroke-width="0.700"/>
<g shape-rendering="crispEdges" fill="#000"><rect x="532" y="8" width="5" height="1"/><rect x="533" y="9" width="3" height="1"/><rect x="534" y="10" width="1" height="1"/></g>
<rect x="548.500" y="2.500" width="15" height="12" fill="#fff" stroke="#3878d0" stroke-width="1"/><rect x="549" y="3" width="14" height="2" fill="#4890e0"/><rect x="549" y="9" width="14" height="1" fill="#5890d8"/><path d="M550.500 8l1.500-.2 1.500-1 1.500-.2 1.500-.600 1.500.700 1.500.1 1.500-.9" stroke="#a02010" stroke-width="1.100" fill="none"/><path d="M551 13l1.500-.2 1.500-.800 1.500.5 1.500-1 1.500-.600 1.500 1.100 1 .9" stroke="#109020" stroke-width="1.100" fill="none"/>
<g shape-rendering="crispEdges" fill="#000"><rect x="571" y="8" width="5" height="1"/><rect x="572" y="9" width="3" height="1"/><rect x="573" y="10" width="1" height="1"/></g>
<rect x="582" y="0" width="1" height="21" fill="#a0a0a0" shape-rendering="crispEdges"/>
<g shape-rendering="crispEdges" fill="#a8a8a8">
<rect x="586" y="1" width="3" height="1"/>
<rect x="586" y="3" width="3" height="1"/>
<rect x="586" y="5" width="3" height="1"/>
<rect x="586" y="7" width="3" height="1"/>
<rect x="586" y="9" width="3" height="1"/>
<rect x="586" y="11" width="3" height="1"/>
<rect x="586" y="13" width="3" height="1"/>
<rect x="586" y="15" width="3" height="1"/>
<rect x="586" y="17" width="3" height="1"/>
</g>
<rect x="592" y="0" width="1" height="19" fill="#a0a0a0" shape-rendering="crispEdges"/>
<rect x="593" y="0" width="24" height="19" fill="url(#hl)" shape-rendering="crispEdges"/>
<path d="M600.300 2.200 L600.300 13.800 L603 11.300 L605.300 16 L606.900 15.200 L604.700 10.700 L608.200 10.400z" fill="#505050"/>
<g shape-rendering="crispEdges" fill="#404040"><rect x="632" y="2" width="1" height="6"/><rect x="632" y="11" width="1" height="6"/><rect x="625" y="9" width="6" height="1"/><rect x="634" y="9" width="6" height="1"/><rect x="632" y="9" width="1" height="1" fill="#909090"/></g>
<rect x="649" y="0" width="1" height="19" fill="#a0a0a0" shape-rendering="crispEdges"/>
<g shape-rendering="crispEdges" fill="#404040"><rect x="666" y="3" width="1" height="13"/><rect x="689" y="9" width="12" height="1"/></g>
<path d="M716.800 15.800 L729 4" stroke="#404040" stroke-width="1.100"/>
<g stroke="#404040" stroke-width="0.900" fill="none"><path d="M742.800 10.800 L754.500 1.500"/><path d="M747.300 15.800 L757 7.500"/><path d="M747.200 5.500l-1.600 8M750.400 3l-1.800 10M753.600 1.200l-1.800 9.500M755.800 3.500l-1 5" stroke-width="1.100"/></g>
<g shape-rendering="crispEdges" fill="#303030"><rect x="754" y="13" width="1" height="5"/><rect x="754" y="13" width="4" height="1"/><rect x="754" y="15" width="3" height="1"/><rect x="754" y="17" width="4" height="1"/></g>
<g stroke="#404040" stroke-width="1" stroke-dasharray="1 1" shape-rendering="crispEdges"><line x1="772" y1="2.500" x2="786" y2="2.500"/><line x1="772" y1="5.500" x2="786" y2="5.500"/><line x1="772" y1="9.500" x2="786" y2="9.500"/><line x1="772" y1="13.500" x2="781" y2="13.500"/></g>
<g shape-rendering="crispEdges" fill="#303030"><rect x="782" y="13" width="1" height="5"/><rect x="782" y="13" width="4" height="1"/><rect x="782" y="15" width="3" height="1"/></g>
<path d="M803.300 13.700 L806.400 5.600 L807.200 5.600 L810.300 13.700 M804.500 11 L809.100 11" stroke="#484848" stroke-width="1.250" fill="none" stroke-linejoin="miter"/>
<rect x="829.500" y="3.500" width="11" height="12" fill="none" stroke="#404040" stroke-width="1" stroke-dasharray="1 1" shape-rendering="crispEdges"/><path d="M831 6.500h7.700M834.850 6.500v7.500" stroke="#404040" stroke-width="1.400" fill="none"/><path d="M828.200 2.500l1.800 1.200" stroke="#404040" stroke-width="1"/>
<path d="M855.800 6.600 L859.300 3 L862.800 6.600 L861.800 7.600 L856.800 7.600z" fill="#505050"/><path d="M863 12.200 L864 11.200 L869 11.200 L870 12.200 L866.500 16z" fill="#505050"/><path d="M858.500 10.500 L860.500 12.500 L865 7.200" stroke="#505050" stroke-width="1.300" fill="none"/>
<g shape-rendering="crispEdges" fill="#000"><rect x="877" y="8" width="5" height="1"/><rect x="878" y="9" width="3" height="1"/><rect x="879" y="10" width="1" height="1"/></g>
<rect x="888" y="0" width="1" height="21" fill="#a0a0a0" shape-rendering="crispEdges"/>
<g shape-rendering="crispEdges" fill="#a8a8a8">
<rect x="892" y="1" width="3" height="1"/>
<rect x="892" y="3" width="3" height="1"/>
<rect x="892" y="5" width="3" height="1"/>
<rect x="892" y="7" width="3" height="1"/>
<rect x="892" y="9" width="3" height="1"/>
<rect x="892" y="11" width="3" height="1"/>
<rect x="892" y="13" width="3" height="1"/>
<rect x="892" y="15" width="3" height="1"/>
<rect x="892" y="17" width="3" height="1"/>
</g>
<rect x="1039" y="0" width="24" height="19" fill="url(#hl)" shape-rendering="crispEdges"/>
<rect x="1038" y="0" width="1" height="19" fill="#a0a0a0" shape-rendering="crispEdges"/>
<text x="902.8" y="13" font-size="10.2" fill="#404040" textLength="13.6" lengthAdjust="spacingAndGlyphs">M1</text>
<text x="931.0" y="13" font-size="10.2" fill="#404040" textLength="13.6" lengthAdjust="spacingAndGlyphs">M5</text>
<text x="957.0" y="13" font-size="10.2" fill="#404040" textLength="18.3" lengthAdjust="spacingAndGlyphs">M15</text>
<text x="984.8" y="13" font-size="10.2" fill="#404040" textLength="18.6" lengthAdjust="spacingAndGlyphs">M30</text>
<text x="1016.1" y="13" font-size="10.2" fill="#404040" textLength="12.6" lengthAdjust="spacingAndGlyphs">H1</text>
<text x="1043.0" y="13" font-size="10.2" fill="#404040" textLength="13.0" lengthAdjust="spacingAndGlyphs">H4</text>
<text x="1072.1000000000001" y="13" font-size="10.2" fill="#404040" textLength="12.5" lengthAdjust="spacingAndGlyphs">D1</text>
<text x="1099.6000000000001" y="13" font-size="10.2" fill="#404040" textLength="14.8" lengthAdjust="spacingAndGlyphs">W1</text>
<text x="1126.1000000000001" y="13" font-size="10.2" fill="#404040" textLength="15.7" lengthAdjust="spacingAndGlyphs">MN</text>
<rect x="1149" y="0" width="1" height="21" fill="#a0a0a0" shape-rendering="crispEdges"/>
<circle cx="1619.600" cy="6.500" r="3.800" fill="#f4f6ff" stroke="#2860d0" stroke-width="1.200"/><path d="M1616.700 9.600 L1612.200 14" stroke="#2860d0" stroke-width="2.400" stroke-linecap="round"/>
<path d="M1636.500 11 a5.200 4.600 0 0 1 10.400 0 a5.200 4.600 0 0 1 -5.200 4.600 h-1.200 l-1.500 1.800 l0.200 -2.200 a5 4.600 0 0 1 -2.700 -4.200z" fill="#e6e8f0" stroke="#a8a8a8" stroke-width="0.800"/><circle cx="1650.500" cy="7.100" r="8.200" fill="url(#gRed)"/><path d="M1650.300 2.300h1.300v7.700h1.500v1.100h-4.600v-1.100h1.600v-5.900l-1.600 .5v-1.100z" fill="#fff"/>
</g>
</svg></body></html>
